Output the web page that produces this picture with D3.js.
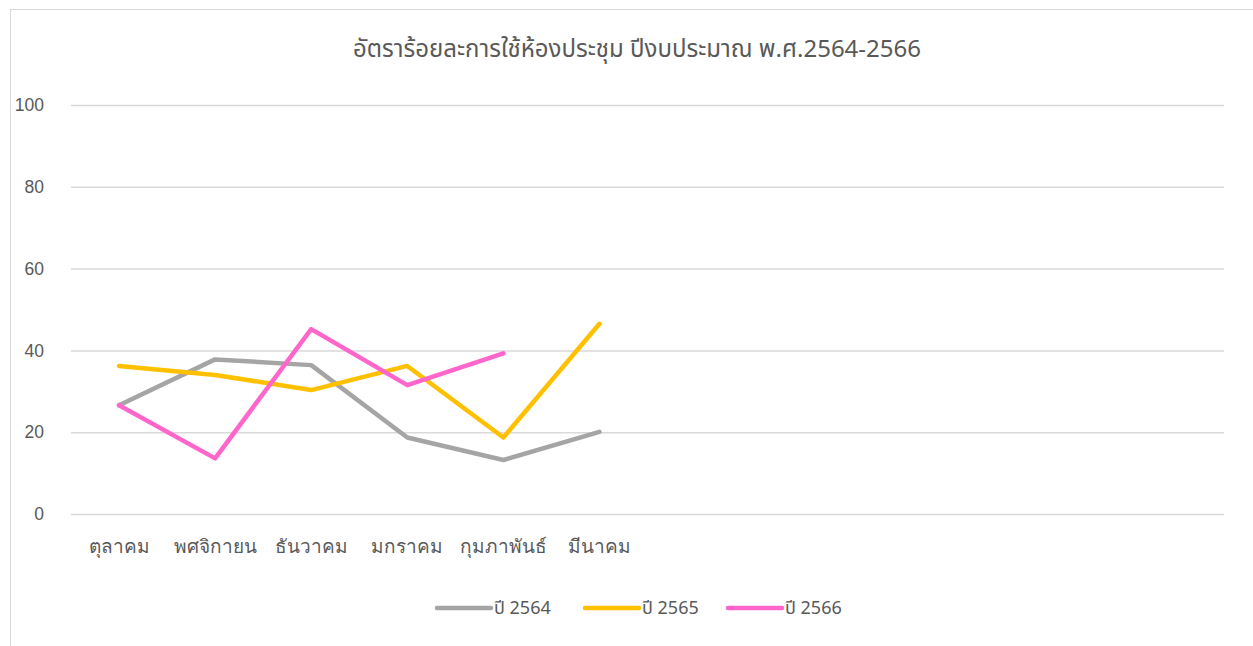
<!DOCTYPE html>
<html>
<head>
<meta charset="utf-8">
<script src="https://cdn.jsdelivr.net/npm/d3@7"></script>
<style>
  body { margin: 0; background: #fff; }
  svg { display: block; font-family: 'Tahoma', 'Noto Sans Thai', 'Loma', 'Garuda', 'Noto Sans', sans-serif; }
</style>
</head>
<body>
<svg id="chart"></svg>
<script>
const width = 1253;
const height = 646;

const title = 'อัตราร้อยละการใช้ห้องประชุม ปีงบประมาณ พ.ศ.2564-2566';
// 12 fiscal-year slots, only the first six are labelled
const months = ['ตุลาคม', 'พศจิกายน', 'ธันวาคม', 'มกราคม', 'กุมภาพันธ์', 'มีนาคม', '', ' ', '  ', '   ', '    ', '     '];
const yTicks = [0, 20, 40, 60, 80, 100];

const seriesNames = ['ปี 2564', 'ปี 2565', 'ปี 2566'];
const seriesColors = ['#A5A5A5', '#FFC000', '#FF66CC'];
const values2564 = [26.6, 37.8, 36.4, 18.7, 13.2, 20.1];
const values2565 = [36.2, 34.0, 30.3, 36.2, 18.7, 46.5];
const values2566 = [26.6, 13.6, 45.2, 31.5, 39.3];
const allSeries = [values2564, values2565, values2566];

const margin = { left: 71, right: 29, top: 105, bottom: 132 };

const svg = d3.select('#chart').attr('width', width).attr('height', height);

// outer chart frame (runs off the right and bottom edge)
svg.append('rect')
  .attr('x', 10.5).attr('y', 9.5)
  .attr('width', width + 10).attr('height', height + 10)
  .attr('fill', 'none')
  .attr('stroke', '#D9D9D9')
  .attr('stroke-width', 1);

const xScale = d3.scaleBand()
  .domain(months)
  .range([margin.left, width - margin.right]);

const yScale = d3.scaleLinear()
  .domain([0, 100])
  .range([height - margin.bottom, margin.top]);

// gridlines
const yAxis = d3.axisLeft(yScale)
  .tickValues(yTicks)
  .tickSize(-(width - margin.left - margin.right))
  .tickPadding(27);

const gy = svg.append('g')
  .attr('transform', 'translate(' + margin.left + ',0)')
  .call(yAxis);
gy.select('.domain').remove();
gy.selectAll('line').attr('stroke', '#D9D9D9').attr('stroke-width', 1.5);
gy.selectAll('text')
  .attr('fill', '#595959')
  .style('font-size', '17.5px')
  .attr('font-family', 'Liberation Sans, Arial, sans-serif');

// x labels
const xAxis = d3.axisBottom(xScale).tickSize(0).tickPadding(26);
const gx = svg.append('g')
  .attr('transform', 'translate(0,' + yScale(0) + ')')
  .call(xAxis);
gx.select('.domain').remove();
gx.selectAll('text')
  .attr('fill', '#595959')
  .style('font-size', '19px');

// lines
const line = d3.line()
  .x((d, i) => xScale(months[i]) + xScale.bandwidth() / 2)
  .y((d) => yScale(d));

allSeries.forEach((vals, k) => {
  svg.append('path')
    .datum(vals)
    .attr('d', line)
    .attr('fill', 'none')
    .attr('stroke', seriesColors[k])
    .attr('stroke-width', 4.5)
    .attr('stroke-linecap', 'round')
    .attr('stroke-linejoin', 'round');
});

// title
svg.append('text')
  .attr('x', 637)
  .attr('y', 57)
  .attr('text-anchor', 'middle')
  .attr('fill', '#595959')
  .style('font-size', '24px')
  .text(title);

// legend
const legendX = [437, 585, 728];
const legend = svg.append('g');
seriesNames.forEach((name, k) => {
  const g = legend.append('g').attr('transform', 'translate(' + legendX[k] + ',608)');
  g.append('line')
    .attr('x1', 0).attr('x2', 54)
    .attr('stroke', seriesColors[k])
    .attr('stroke-width', 4.5)
    .attr('stroke-linecap', 'round');
  g.append('text')
    .attr('x', 57)
    .attr('dy', '0.35em')
    .attr('fill', '#595959')
    .style('font-size', '18px')
    .text(name);
});
</script>
</body>
</html>
